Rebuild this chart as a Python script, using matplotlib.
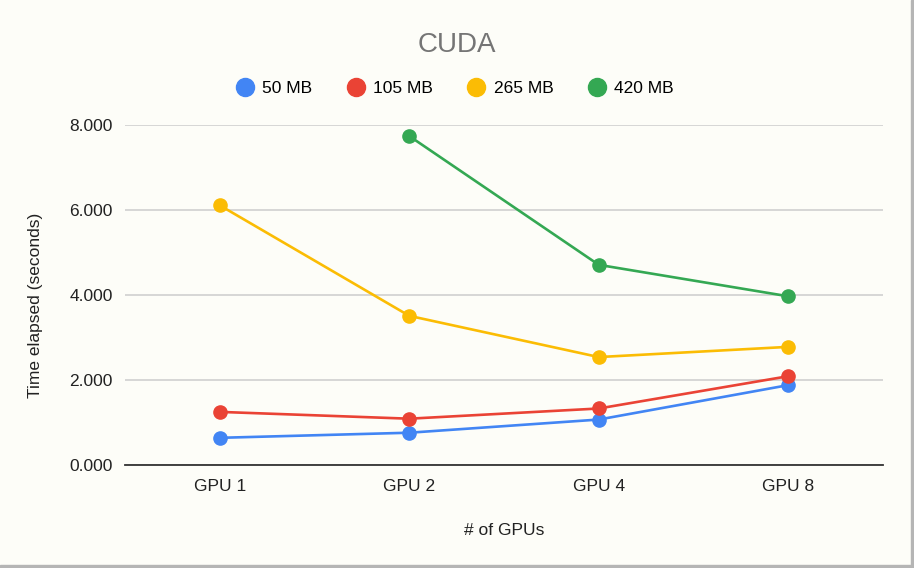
import matplotlib.pyplot as plt
from matplotlib.lines import Line2D
from matplotlib.patches import Rectangle

plt.rcParams['font.family'] = ['Liberation Sans', 'DejaVu Sans']

gpus = ['GPU 1', 'GPU 2', 'GPU 4', 'GPU 8']
sizes = ['50 MB', '105 MB', '265 MB', '420 MB']
colors = ['#4285F4', '#EA4335', '#FBBC04', '#34A853']

# time elapsed in seconds, None = no value
t_50 = [0.64, 0.76, 1.07, 1.88]
t_105 = [1.25, 1.09, 1.33, 2.09]
t_265 = [6.11, 3.51, 2.54, 2.78]
t_420 = [None, 7.74, 4.71, 3.97]
series = [t_50, t_105, t_265, t_420]

bg = '#FDFDF8'
fig = plt.figure(figsize=(9.14, 5.68), dpi=100, facecolor=bg)
ax = fig.add_axes([0.1368, 0.1813, 0.8293, 0.5986], facecolor=bg)

for name, vals, c in zip(sizes, series, colors):
    xs = [i for i, v in enumerate(vals) if v is not None]
    ys = [v for v in vals if v is not None]
    ax.plot(xs, ys, color=c, lw=1.9, marker='o', ms=9.5, label=name,
            solid_capstyle='round', zorder=3)

ax.set_xlim(-0.5, 3.5)
ax.set_ylim(0, 8)
ax.set_yticks([0, 2, 4, 6, 8])
ax.set_yticklabels([f'{v:.3f}' for v in [0, 2, 4, 6, 8]])
ax.set_xticks(range(len(gpus)))
ax.set_xticklabels(gpus)
ax.tick_params(length=0, labelsize=12.5, colors='#222222')
ax.tick_params(axis='y', pad=9)
ax.tick_params(axis='x', pad=10)

ax.grid(axis='y', color='#CCCCCC', lw=1.1, zorder=0)
for s in ['top', 'right', 'left']:
    ax.spines[s].set_visible(False)
ax.spines['bottom'].set_color('#333333')
ax.spines['bottom'].set_linewidth(1.3)

ax.set_ylabel('Time elapsed (seconds)', fontsize=12.5, color='#222222')
ax.yaxis.set_label_coords(-0.108, 0.47)
ax.set_xlabel('# of GPUs', fontsize=12.5, color='#222222', labelpad=21)

fig.text(0.5, 0.921, 'CUDA', ha='center', va='center', fontsize=20, color='#757575')

handles = [Line2D([], [], ls='none', marker='o', ms=13, color=c) for c in colors]
fig.legend(handles, sizes, loc='center', bbox_to_anchor=(0.497, 0.845), ncol=4,
           frameon=False, fontsize=12.5, handletextpad=0.4, columnspacing=1.9,
           handlelength=1.2)

# grey edge on right and bottom like the screenshot
fig.patches.append(Rectangle((0.9967, 0), 0.0033, 1, transform=fig.transFigure,
                             color='#B5B5B5', zorder=10))
fig.patches.append(Rectangle((0, 0), 1, 0.005, transform=fig.transFigure,
                             color='#B5B5B5', zorder=10))

fig.savefig('out.png', dpi=100, facecolor=bg)
